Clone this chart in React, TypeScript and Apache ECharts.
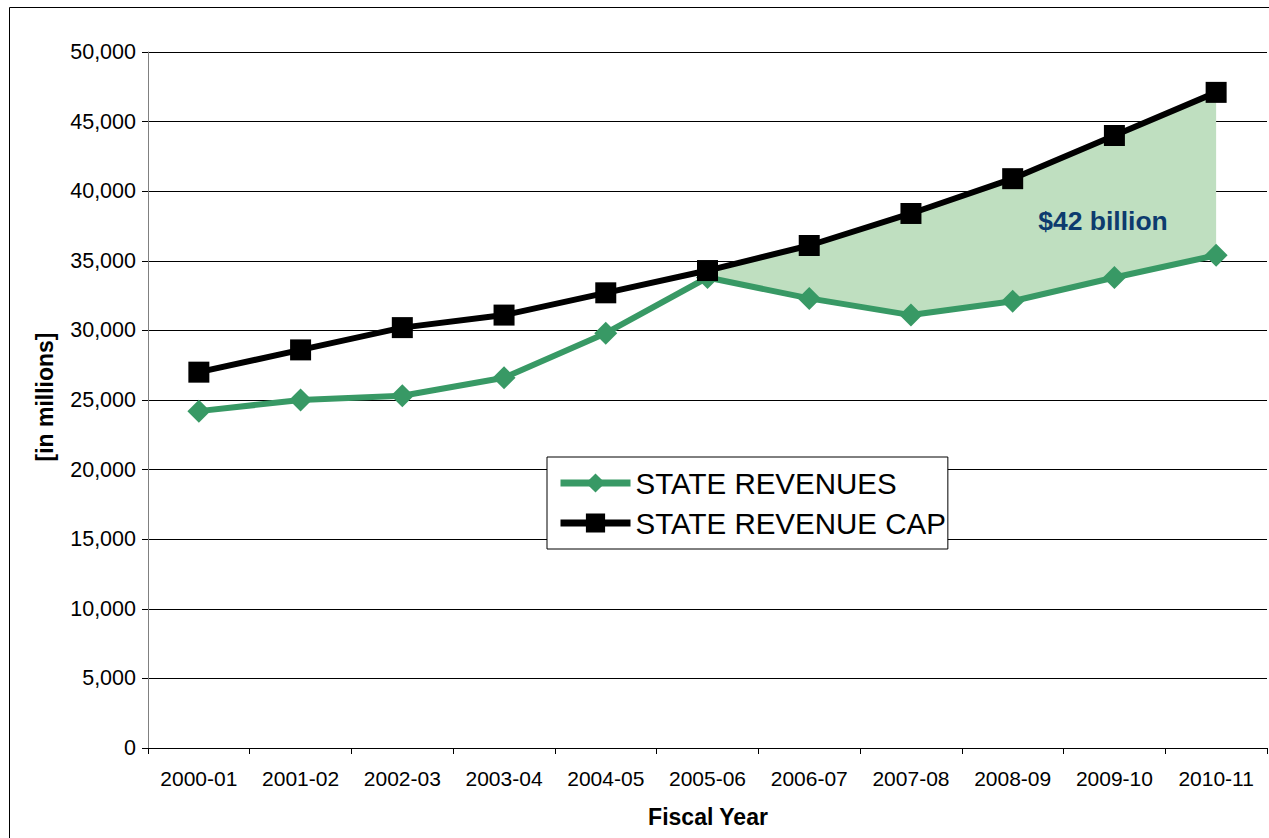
import React, { useEffect, useRef } from "react";
import * as echarts from "echarts";

const categories = [
  "2000-01", "2001-02", "2002-03", "2003-04", "2004-05", "2005-06",
  "2006-07", "2007-08", "2008-09", "2009-10", "2010-11",
];
const stateRevenues = [24200, 25000, 25300, 26600, 29800, 33800, 32300, 31100, 32100, 33800, 35400];
const revenueCap = [27000, 28600, 30200, 31100, 32700, 34300, 36100, 38400, 40900, 44000, 47100];
const gapStartIndex = 5;
const yTicks = { min: 0, max: 50000, interval: 5000 };
const annotationText = "$42 billion";

const FONT = "'Liberation Sans', Arial, sans-serif";

export default function App() {
  const ref = useRef<HTMLDivElement>(null);
  useEffect(() => {
    if (!ref.current) return;
    const chart = echarts.init(ref.current, undefined, { renderer: "svg" });
    const base = stateRevenues.map((v, i) => (i >= gapStartIndex ? v : null));
    const diff = revenueCap.map((v, i) => (i >= gapStartIndex ? v - stateRevenues[i] : null));
    chart.setOption({
      animation: false,
      backgroundColor: "#fff",
      textStyle: { fontFamily: FONT },
      grid: { left: 148, right: 2, top: 52, bottom: 90, containLabel: false, outerBoundsMode: "none" },
      legend: {
        data: ["STATE REVENUES", "STATE REVENUE CAP"],
        orient: "vertical",
        left: 547,
        top: 457,
        padding: [10, 2, 10, 10],
        itemWidth: 70,
        itemHeight: 24,
        itemGap: 8,
        borderColor: "#000",
        borderWidth: 1,
        backgroundColor: "#fff",
        lineStyle: { width: 7 },
        textStyle: { fontSize: 29.5, color: "#000", fontFamily: FONT, lineHeight: 32, padding: [0, 0, 0, 0] },
      },
      xAxis: {
        type: "category",
        data: categories,
        boundaryGap: true,
        axisLine: { lineStyle: { color: "#000", width: 1 } },
        axisTick: { show: true, length: 6, lineStyle: { color: "#000" } },
        axisLabel: { fontSize: 21, color: "#000", margin: 20, fontFamily: FONT },
        splitLine: { show: false },
      },
      yAxis: {
        type: "value",
        min: yTicks.min,
        max: yTicks.max,
        interval: yTicks.interval,
        axisLine: { show: true, lineStyle: { color: "#808080", width: 1 } },
        axisTick: { show: true, length: 6, lineStyle: { color: "#000" } },
        axisLabel: {
          fontSize: 21.5,
          color: "#000",
          margin: 12,
          fontFamily: FONT,
          formatter: (v: number) => v.toLocaleString("en-US"),
        },
        splitLine: { show: true, lineStyle: { color: "#000", width: 1 } },
      },
      series: [
        {
          name: "gapBase",
          type: "line",
          data: base,
          stack: "gap",
          symbol: "none",
          lineStyle: { opacity: 0 },
          silent: true,
          z: 1,
        },
        {
          name: "gap",
          type: "line",
          data: diff,
          stack: "gap",
          symbol: "none",
          lineStyle: { opacity: 0 },
          areaStyle: { color: "#bfdfc0", opacity: 1 },
          silent: true,
          z: 1,
        },
        {
          name: "STATE REVENUES",
          type: "line",
          data: stateRevenues,
          symbol: "diamond",
          symbolSize: [23, 23],
          itemStyle: { color: "#389965" },
          lineStyle: { color: "#389965", width: 6 },
          z: 3,
        },
        {
          name: "STATE REVENUE CAP",
          type: "line",
          data: revenueCap,
          symbol: "rect",
          symbolSize: 21,
          itemStyle: { color: "#000" },
          lineStyle: { color: "#000", width: 6 },
          z: 4,
        },
      ],
      graphic: [
        {
          type: "rect",
          z: 10,
          shape: { x: 9.5, y: 7.5, width: 1400, height: 1000 },
          style: { fill: "none", stroke: "#000", lineWidth: 1 },
          silent: true,
        },
        {
          type: "text",
          z: 10,
          x: 1103,
          y: 221,
          style: {
            text: annotationText,
            fontSize: 26.5,
            fontWeight: "bold",
            fill: "#0d3b6e",
            fontFamily: FONT,
            align: "center",
            verticalAlign: "middle",
          },
        },
        {
          type: "text",
          z: 10,
          x: 45,
          y: 397,
          rotation: Math.PI / 2,
          style: {
            text: "[in millions]",
            fontSize: 23,
            fontWeight: "bold",
            fill: "#000",
            fontFamily: FONT,
            align: "center",
            verticalAlign: "middle",
          },
        },
        {
          type: "text",
          z: 10,
          x: 708,
          y: 817,
          style: {
            text: "Fiscal Year",
            fontSize: 23,
            fontWeight: "bold",
            fill: "#000",
            fontFamily: FONT,
            align: "center",
            verticalAlign: "middle",
          },
        },
      ],
    });
    return () => chart.dispose();
  }, []);
  return (
    <div
      ref={ref}
      style={{ position: "absolute", left: 0, top: 0, width: 1269, height: 838 }}
    />
  );
}
